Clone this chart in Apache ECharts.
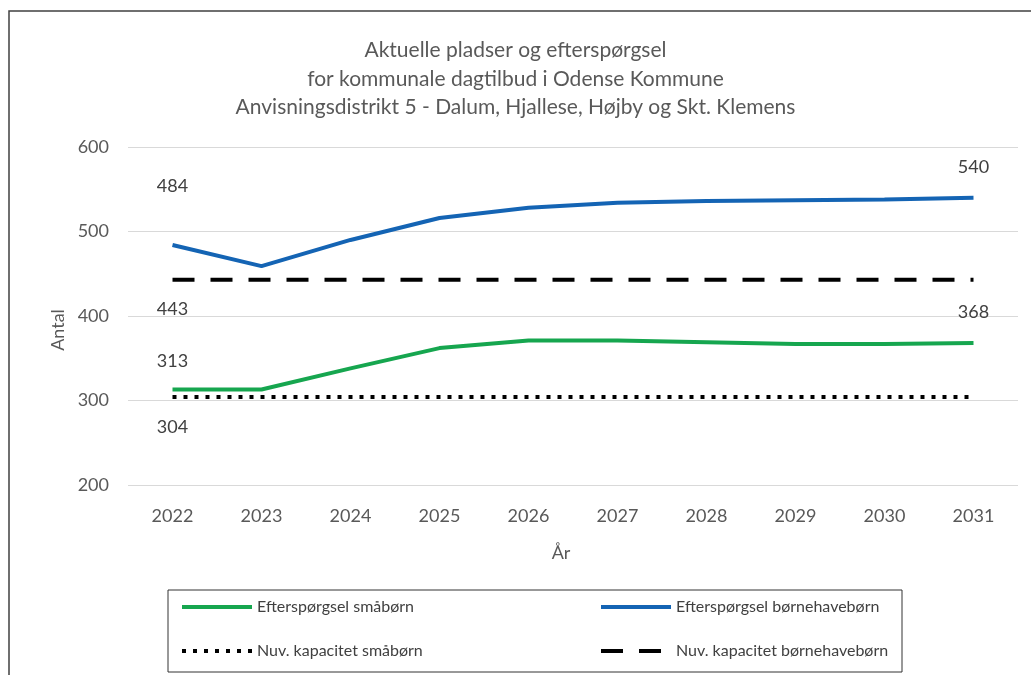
<!DOCTYPE html>
<html>
<head>
<meta charset="utf-8">
<title>Aktuelle pladser og efterspørgsel</title>
<script src="https://cdn.jsdelivr.net/npm/echarts/dist/echarts.min.js"></script>
<style>
  html, body { margin: 0; padding: 0; background: #fff; }
  #chart { width: 1031px; height: 675px; }
</style>
</head>
<body>
<div id="chart"></div>
<script>
const years = ['2022', '2023', '2024', '2025', '2026', '2027', '2028', '2029', '2030', '2031']
const demandToddlers = [313, 313, 338, 362, 371, 371, 369, 367, 367, 368]
const demandKindergarten = [484, 459, 490, 516, 528, 534, 536, 537, 538, 540]
const capacityToddlers = [304, 304, 304, 304, 304, 304, 304, 304, 304, 304]
const capacityKindergarten = [443, 443, 443, 443, 443, 443, 443, 443, 443, 443]
const seriesNames = [
  'Efterspørgsel småbørn',
  'Efterspørgsel børnehavebørn',
  'Nuv. kapacitet småbørn',
  'Nuv. kapacitet børnehavebørn'
]

const font = 'Lato, "Open Sans", sans-serif'
const grey = '#595959'

// label only the points that carry a number in the original
function withLabels (values, shown, position, distances) {
  return values.map((v, i) => {
    if (shown.indexOf(i) < 0) return v
    return {
      value: v,
      label: {show: true, position: position, distance: distances[i] || 21}
    }
  })
}

function lineSeries (name, color, width, type, z, data) {
  return {
    name: name,
    type: 'line',
    symbol: 'circle',
    symbolSize: 0,
    showSymbol: true,
    z: z,
    lineStyle: {color: color, width: width, type: type},
    itemStyle: {color: color},
    label: {show: false, color: '#404040', fontSize: 18, fontFamily: font},
    emphasis: {disabled: true},
    data: data
  }
}

const chart = echarts.init(document.getElementById('chart'))
const last = years.length - 1

const option = {
  animation: false,
  textStyle: {fontFamily: font},
  title: {
    text: 'Aktuelle pladser og efterspørgsel\nfor kommunale dagtilbud i Odense Kommune\nAnvisningsdistrikt 5 - Dalum, Hjallese, Højby og Skt. Klemens',
    left: 'center',
    top: 31,
    textStyle: {
      fontFamily: font,
      fontSize: 21,
      fontWeight: 'normal',
      color: grey,
      lineHeight: 28.5,
      align: 'center'
    }
  },
  graphic: [
    {
      type: 'rect',
      silent: true,
      z: -10,
      shape: {x: 9, y: 11, width: 1100, height: 720},
      style: {fill: 'none', stroke: '#404040', lineWidth: 1.5}
    }
  ],
  grid: {left: 128, right: 13, top: 147, bottom: 190},
  legend: {
    left: 168,
    top: 590,
    width: 730,
    itemWidth: 70,
    itemHeight: 20,
    itemGap: 24,
    padding: [7, 2, 11, 12],
    borderColor: '#333',
    borderWidth: 1,
    lineStyle: {width: 4},
    itemStyle: {opacity: 0},
    textStyle: {fontFamily: font, fontSize: 16, color: '#404040', lineHeight: 20},
    data: [
      {name: seriesNames[0], textStyle: {width: 318}},
      {name: seriesNames[1], textStyle: {width: 224}},
      {name: seriesNames[2], textStyle: {width: 318}},
      {name: seriesNames[3], textStyle: {width: 224}}
    ]
  },
  xAxis: {
    type: 'category',
    data: years,
    name: 'År',
    nameLocation: 'middle',
    nameGap: 59,
    nameTextStyle: {fontFamily: font, fontSize: 18, color: grey, padding: [0, 24, 0, 0]},
    axisLine: {show: false},
    axisTick: {show: false},
    axisLabel: {fontFamily: font, fontSize: 18, color: grey, margin: 22}
  },
  yAxis: {
    type: 'value',
    min: 200,
    max: 600,
    interval: 100,
    name: 'Antal',
    nameLocation: 'middle',
    nameGap: 61,
    nameTextStyle: {fontFamily: font, fontSize: 18, color: grey, padding: [0, 28, 0, 0]},
    axisLine: {show: false},
    axisTick: {show: false},
    axisLabel: {fontFamily: font, fontSize: 18, color: grey, margin: 19},
    splitLine: {lineStyle: {color: '#d9d9d9', width: 1}}
  },
  series: [
    lineSeries(seriesNames[0], '#16a64f', 4, 'solid', 4,
      withLabels(demandToddlers, [0, last], 'top', {0: 19, 9: 22})),
    lineSeries(seriesNames[1], '#1464b4', 4, 'solid', 4,
      withLabels(demandKindergarten, [0, last], 'top', {0: 50, 9: 22})),
    lineSeries(seriesNames[2], '#000', 4, [4, 7], 3,
      withLabels(capacityToddlers, [0], 'bottom', {})),
    lineSeries(seriesNames[3], '#000', 4, [22, 16], 3,
      withLabels(capacityKindergarten, [0], 'bottom', {}))
  ]
}

chart.setOption(option)
</script>
</body>
</html>
